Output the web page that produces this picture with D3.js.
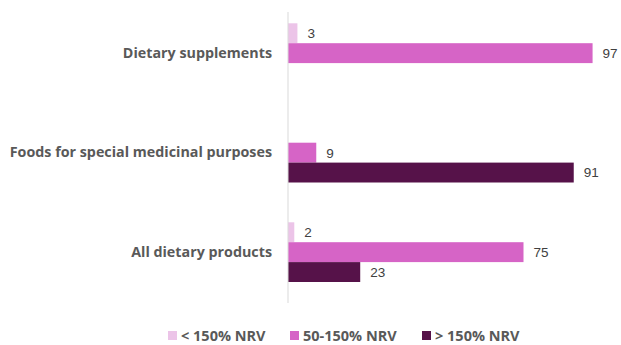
<!DOCTYPE html>
<html><head><meta charset="utf-8">
<script src="https://cdn.jsdelivr.net/npm/d3@7"></script>
<style>body{margin:0;background:#fff}svg{display:block}</style>
</head><body>
<svg id="c" width="621" height="345"></svg>
<script>
const categories = ["Dietary supplements", "Foods for special medicinal purposes", "All dietary products"];
const seriesNames = ["< 150% NRV", "50-150% NRV", "> 150% NRV"];
const lowValues = [3, null, 2];
const midValues = [97, 9, 75];
const highValues = [null, 91, 23];
const colors = ["#ecc4e8", "#d664c6", "#561249"];

const svg = d3.select("#c");
const x0 = 288;
const x = d3.scaleLinear().domain([0, 100]).range([x0, x0 + 314]);
const y = d3.scaleBand().domain(categories).range([3.4, 301.9]).paddingInner(0.4).paddingOuter(0.2);
const ys = d3.scaleBand().domain(seriesNames).range([0, y.bandwidth()]).padding(0);

const series = [lowValues, midValues, highValues];
const rows = [];
series.forEach((vals, si) => vals.forEach((v, ci) => {
  if (v !== null) rows.push({cat: categories[ci], s: seriesNames[si], si, v});
}));

svg.selectAll("rect.bar").data(rows).join("rect").attr("class","bar")
  .attr("x", x(0)).attr("y", d => y(d.cat) + ys(d.s))
  .attr("width", d => x(d.v) - x(0)).attr("height", ys.bandwidth())
  .attr("fill", d => colors[d.si]);

svg.selectAll("text.val").data(rows).join("text").attr("class","val")
  .attr("x", d => x(d.v) + 10).attr("y", d => y(d.cat) + ys(d.s) + ys.bandwidth()/2)
  .attr("dy", "0.36em").attr("font-family", "'Liberation Sans', Arial, sans-serif")
  .attr("font-size", 13.5).attr("fill", "#404040").text(d => d.v);

// axis line
svg.append("line").attr("x1", x0).attr("x2", x0).attr("y1", 12).attr("y2", 303)
  .attr("stroke", "#d9d9d9").attr("stroke-width", 1);

const yAxis = d3.axisLeft(y).tickSize(0).tickPadding(16);
const g = svg.append("g").attr("transform", `translate(${x0},0)`).call(yAxis);
g.select(".domain").remove();
g.selectAll("text").attr("font-family", "'Open Sans', sans-serif").attr("font-weight", "bold")
  .attr("font-size", 14.3).attr("fill", "#595959");

// legend
const legendX = [168, 290, 422];
const lg = svg.append("g");
seriesNames.forEach((n, i) => {
  lg.append("rect").attr("x", legendX[i]).attr("y", 331).attr("width", 9).attr("height", 9).attr("fill", colors[i]);
  lg.append("text").attr("x", legendX[i] + 13).attr("y", 335.5).attr("dy", "0.36em")
    .attr("font-family", "'Open Sans', sans-serif").attr("font-weight", "bold")
    .attr("font-size", 14.5).attr("fill", "#595959").text(n);
});
</script>
</body></html>
